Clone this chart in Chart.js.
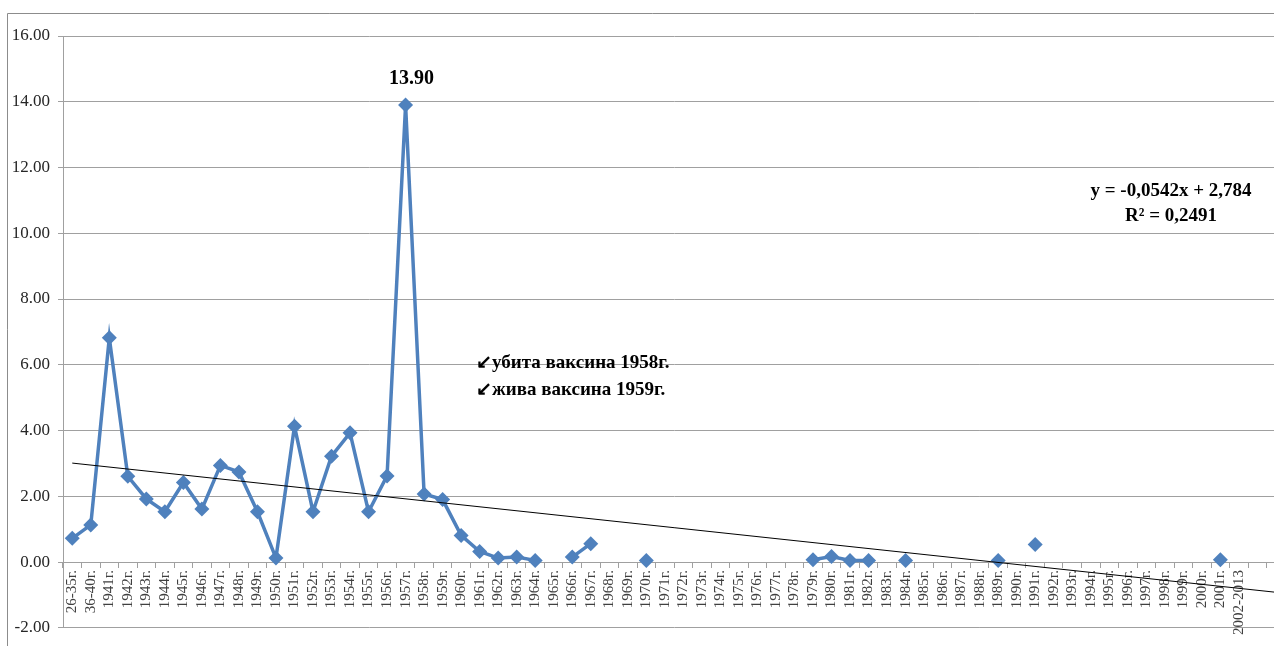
<!DOCTYPE html>
<html>
<head>
<meta charset="utf-8">
<script src="https://cdn.jsdelivr.net/npm/chart.js@4.4.1/dist/chart.umd.min.js"></script>
<style>
  html, body { margin: 0; padding: 0; background: #fff; overflow: hidden; }
  #wrap { position: absolute; left: 0; top: 0; width: 1297px; height: 646px; }
</style>
</head>
<body>
<div id="wrap"><canvas id="chart"></canvas></div>
<script>
// categories (two trailing empty slots: the plot runs past the right edge)
const categories = [
  '26-35г.', '36-40г.',
  '1941г.', '1942г.', '1943г.', '1944г.', '1945г.', '1946г.', '1947г.', '1948г.', '1949г.', '1950г.',
  '1951г.', '1952г.', '1953г.', '1954г.', '1955г.', '1956г.', '1957г.', '1958г.', '1959г.', '1960г.',
  '1961г.', '1962г.', '1963г.', '1964г.', '1965г.', '1966г.', '1967г.', '1968г.', '1969г.', '1970г.',
  '1971г.', '1972г.', '1973г.', '1974г.', '1975г.', '1976г.', '1977г.', '1978г.', '1979г.', '1980г.',
  '1981г.', '1982г.', '1983г.', '1984г.', '1985г.', '1986г.', '1987г.', '1988г.', '1989г.', '1990г.',
  '1991г.', '1992г.', '1993г.', '1994г.', '1995г.', '1996г.', '1997г.', '1998г.', '1999г.', '2000г.',
  '2001г.', '2002-2013', ' ', '  '
];

// incidence values (null = no value)
const values = [
  0.72, 1.13,
  6.82, 2.61, 1.92, 1.53, 2.42, 1.61, 2.94, 2.74, 1.53, 0.12,
  4.13, 1.53, 3.22, 3.93, 1.53, 2.62, 13.90, 2.07, 1.90, 0.81,
  0.32, 0.12, 0.15, 0.05, null, 0.15, 0.56, null, null, 0.05,
  null, null, null, null, null, null, null, null, 0.07, 0.17,
  0.05, 0.05, null, 0.05, null, null, null, null, 0.05, null,
  0.53, null, null, null, null, null, null, null, null, null,
  0.07, null, null, null
];

// linear trend: values at first and last category slot
const trendCats = [categories[0], categories[65]];
const trendVals = [3.01, -0.92];

const yTicks = { min: -2, max: 16, step: 2 };
const peakIndex = 18;
const noteLines = ['↙убита ваксина 1958г.', '↙жива ваксина 1959г.'];
const equationLines = ['y = -0,0542x + 2,784', 'R² = 0,2491'];

const serif = "'Liberation Serif', 'Times New Roman', serif";

const overlay = {
  id: 'overlay',
  afterDatasetsDraw(chart) {
    const ctx = chart.ctx;
    const pt = chart.getDatasetMeta(1).data[peakIndex];
    ctx.save();
    ctx.fillStyle = '#000';
    ctx.textBaseline = 'alphabetic';
    ctx.font = 'bold 20px ' + serif;
    ctx.textAlign = 'center';
    ctx.fillText(values[peakIndex].toFixed(2), pt.x + 6, 84);

    ctx.font = 'bold 19px ' + serif;
    ctx.textAlign = 'left';
    ctx.fillText(noteLines[0], 476, 368);
    ctx.fillText(noteLines[1], 476, 395);

    ctx.font = 'bold 19px ' + serif;
    ctx.textAlign = 'center';
    ctx.fillText(equationLines[0], 1171, 196);
    ctx.fillText(equationLines[1], 1171, 221);

    // outer frame (left and top)
    ctx.strokeStyle = '#8c8c8c';
    ctx.lineWidth = 1;
    ctx.beginPath();
    ctx.moveTo(7.5, 646);
    ctx.lineTo(7.5, 13.5);
    ctx.lineTo(1297, 13.5);
    ctx.stroke();
    ctx.restore();
  }
};

const ctx = document.getElementById('chart').getContext('2d');
new Chart(ctx, {
  type: 'line',
  data: {
    labels: categories,
    datasets: [
      {
        label: 'trend',
        data: trendCats.map((c, i) => ({ x: c, y: trendVals[i] })),
        borderColor: '#000',
        borderWidth: 1,
        pointRadius: 0,
        spanGaps: true,
        order: 0
      },
      {
        label: 'values',
        data: values,
        borderColor: '#4f81bd',
        backgroundColor: '#4f81bd',
        borderWidth: 3.5,
        pointStyle: 'rectRot',
        pointRadius: 7.5,
        pointBorderWidth: 0,
        spanGaps: false,
        order: 1
      }
    ]
  },
  options: {
    responsive: true,
    maintainAspectRatio: false,
    animation: false,
    layout: { padding: { top: 36, bottom: 14, left: 0, right: 6 } },
    plugins: {
      legend: { display: false },
      tooltip: { enabled: false }
    },
    scales: {
      x: {
        type: 'category',
        position: { y: 0 },
        offset: true,
        grid: { offset: true, drawOnChartArea: false, drawTicks: true, tickLength: 5, color: '#a0a0a0' },
        border: { color: '#a0a0a0' },
        ticks: {
          autoSkip: false,
          minRotation: 90,
          maxRotation: 90,
          padding: 3,
          color: '#404040',
          font: { family: serif, size: 15 }
        }
      },
      y: {
        min: yTicks.min,
        max: yTicks.max,
        afterFit: s => { s.width = 63; },
        grid: { color: '#a0a0a0', tickLength: 5 },
        border: { color: '#a0a0a0' },
        ticks: {
          stepSize: yTicks.step,
          padding: 8,
          color: '#262626',
          font: { family: serif, size: 17 },
          callback: v => v.toFixed(2)
        }
      }
    }
  },
  plugins: [overlay]
});
</script>
</body>
</html>
